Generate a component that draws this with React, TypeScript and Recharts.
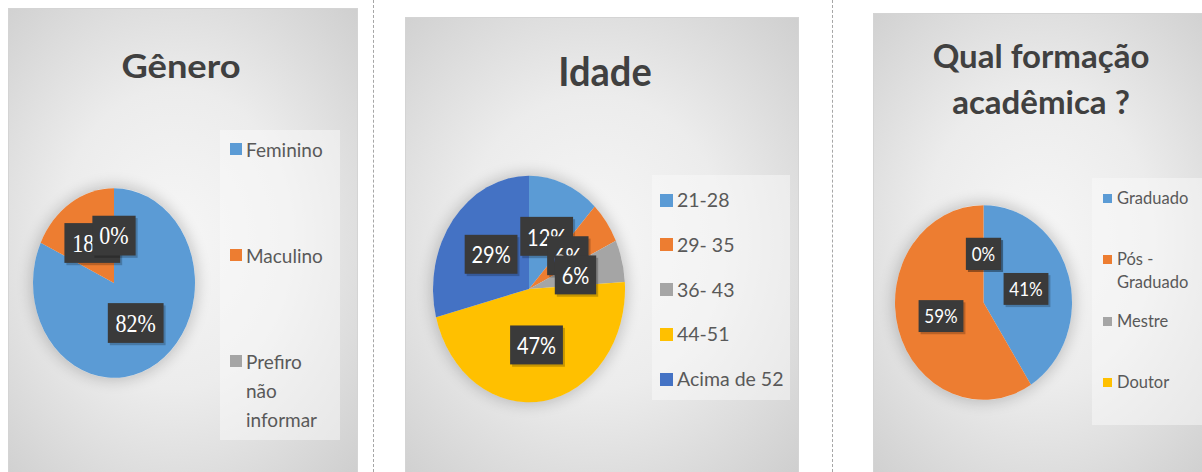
import React from "react";
import { PieChart, Pie, Cell, Legend, Sector } from "recharts";

const generoNames = ["Feminino", "Maculino", "Prefiro não informar"];
const generoValues = [82, 18, 0];
const generoColors = ["#5b9bd5", "#ed7d31", "#a5a5a5"];

const idadeNames = ["21-28", "29- 35", "36- 43", "44-51", "Acima de 52"];
const idadeValues = [12, 6, 6, 47, 29];
const idadeColors = ["#5b9bd5", "#ed7d31", "#a5a5a5", "#ffc000", "#4472c4"];

const formacaoNames = ["Graduado", "Pós - Graduado", "Mestre", "Doutor"];
const formacaoValues = [41, 59, 0, 0];
const formacaoColors = ["#5b9bd5", "#ed7d31", "#a5a5a5", "#ffc000"];

const SANS = "Lato, 'Open Sans', sans-serif";
const RAD = Math.PI / 180;

// the source image is stretched vertically, so sectors and labels get a y-scale
const stretch = (cx: number, cy: number, k: number) =>
  `translate(${cx} ${cy}) scale(1 ${k}) translate(${-cx} ${-cy})`;

function ovalShape(k: number) {
  return (props: any) => (
    <g transform={stretch(props.cx, props.cy, k)}>
      <Sector {...props} />
    </g>
  );
}

function boxLabel(k: number, font: string, fontSize: number, boxH: number, pad: number) {
  return (props: any) => {
    const { cx, cy, midAngle, outerRadius, percent } = props;
    const x = cx + 0.5 * outerRadius * Math.cos(-midAngle * RAD);
    const y = cy + 0.5 * outerRadius * Math.sin(-midAngle * RAD);
    const text = `${Math.round(percent * 100)}%`;
    const w = fontSize * (0.57 * (text.length - 1) + 0.85) + pad;
    return (
      <g transform={stretch(cx, cy, k)}>
        <rect x={x - w / 2 + 2} y={y - boxH / 2 + 2} width={w} height={boxH} fill="rgba(0,0,0,0.22)" />
        <rect x={x - w / 2} y={y - boxH / 2} width={w} height={boxH} fill="#3a3a3a" />
        <text
          x={x}
          y={y}
          textAnchor="middle"
          dominantBaseline="central"
          fill="#ffffff"
          fontFamily={font}
          fontSize={fontSize}
        >
          {text}
        </text>
      </g>
    );
  };
}

type LegendCfg = {
  left: number;
  top: number;
  width: number;
  height: number;
  slot: number;
  padTop: number;
  padLeft: number;
  lineH: number;
  fontSize: number;
  swatch: number;
  gap: number;
  textW: number;
};

function legendContent(cfg: LegendCfg, names: string[]) {
  return (props: any) => {
    // keep the category order of the data, not the legend's default sort
    const items = [...(props.payload || [])].sort(
      (a: any, b: any) => names.indexOf(a.value) - names.indexOf(b.value)
    );
    return (
      <div
        style={{
          width: cfg.width,
          height: cfg.height,
          background: "rgba(250,250,250,0.5)",
          boxSizing: "border-box",
          paddingLeft: cfg.padLeft,
          fontFamily: SANS,
          fontSize: cfg.fontSize,
          color: "#595959",
          textAlign: "left",
        }}
      >
        {items.map((it: any) => (
          <div
            key={it.value}
            style={{
              height: cfg.slot,
              boxSizing: "border-box",
              paddingTop: cfg.padTop,
              display: "flex",
              alignItems: "flex-start",
            }}
          >
            <span
              style={{
                width: cfg.swatch,
                height: cfg.swatch,
                background: it.color,
                marginTop: (cfg.lineH - cfg.swatch) / 2,
                marginRight: cfg.gap,
                flex: "none",
              }}
            />
            <span style={{ width: cfg.textW, lineHeight: `${cfg.lineH}px` }}>{it.value}</span>
          </div>
        ))}
      </div>
    );
  };
}

type TitleCfg = {
  lines: string[];
  cx: number;
  baseline: number;
  fontSize: number;
  lineH: number;
  scaleX: number;
};

type PanelProps = {
  left: number;
  top: number;
  width: number;
  height: number;
  title: TitleCfg;
  names: string[];
  values: number[];
  colors: string[];
  cx: number;
  cy: number;
  r: number;
  k: number;
  labelFont: string;
  labelSize: number;
  boxH: number;
  pad: number;
  legend: LegendCfg;
};

function Panel(p: PanelProps) {
  const data = p.names.map((name, i) => ({ name, value: p.values[i] }));
  const t = p.title;
  return (
    <div
      style={{
        position: "absolute",
        left: p.left,
        top: p.top,
        width: p.width,
        height: p.height,
        border: "1px solid #d4d4d4",
        boxSizing: "border-box",
        background:
          "radial-gradient(ellipse 75% 70% at 48% 48%, #f6f6f6 0%, #ececec 45%, #d6d6d6 85%, #cecece 100%)",
      }}
    >
      <div
        style={{
          position: "absolute",
          left: t.cx - 200,
          width: 400,
          top: t.baseline - 0.987 * t.fontSize - (t.lineH - 1.2 * t.fontSize) / 2,
          textAlign: "center",
          fontFamily: SANS,
          fontWeight: 700,
          fontSize: t.fontSize,
          lineHeight: `${t.lineH}px`,
          color: "#404040",
          transform: `scaleX(${t.scaleX})`,
        }}
      >
        {t.lines.map((l) => (
          <div key={l}>{l}</div>
        ))}
      </div>
      <div
        style={{
          position: "absolute",
          left: p.cx - p.r - 1,
          top: p.cy - p.r * p.k - 1,
          width: 2 * p.r,
          height: 2 * p.r * p.k,
          borderRadius: "50%",
          boxShadow: "0 0 14px 3px rgba(0,0,0,0.18)",
        }}
      />
      <div style={{ position: "absolute", left: -1, top: -1 }}>
        <PieChart width={p.width} height={p.height} margin={{ top: 0, right: 0, bottom: 0, left: 0 }}>
          <Pie
            data={data}
            dataKey="value"
            nameKey="name"
            cx={p.cx}
            cy={p.cy}
            outerRadius={p.r}
            startAngle={90}
            endAngle={-270}
            stroke="none"
            shape={ovalShape(p.k)}
            label={boxLabel(p.k, p.labelFont, p.labelSize, p.boxH, p.pad)}
            labelLine={false}
            isAnimationActive={false}
          >
            {data.map((d, i) => (
              <Cell key={d.name} fill={p.colors[i]} />
            ))}
          </Pie>
          <Legend
            layout="vertical"
            align="right"
            verticalAlign="middle"
            itemSorter={(item: any) => p.names.indexOf(item.value)}
            content={legendContent(p.legend, p.names)}
            wrapperStyle={{
              left: p.legend.left,
              top: p.legend.top,
              width: p.legend.width,
              height: p.legend.height,
            }}
          />
        </PieChart>
      </div>
    </div>
  );
}

export default function App() {
  return (
    <div
      style={{
        position: "absolute",
        left: 0,
        top: 0,
        width: 1202,
        height: 472,
        overflow: "hidden",
        background: "#ffffff",
      }}
    >
      <Panel
        left={8}
        top={8}
        width={350}
        height={480}
        title={{ lines: ["Gênero"], cx: 172, baseline: 69, fontSize: 33, lineH: 40, scaleX: 1.1 }}
        names={generoNames}
        values={generoValues}
        colors={generoColors}
        cx={106}
        cy={275}
        r={81}
        k={1.17}
        labelFont="'Liberation Serif', 'DejaVu Serif', serif"
        labelSize={22}
        boxH={34}
        pad={12}
        legend={{
          left: 212,
          top: 122,
          width: 120,
          height: 310,
          slot: 106,
          padTop: 4.5,
          padLeft: 10,
          lineH: 29,
          fontSize: 19,
          swatch: 12,
          gap: 4,
          textW: 82,
        }}
      />
      <div
        style={{
          position: "absolute",
          left: 373,
          top: 0,
          height: 472,
          borderLeft: "1px dashed #a6a6a6",
        }}
      />
      <Panel
        left={405}
        top={17}
        width={394}
        height={470}
        title={{ lines: ["Idade"], cx: 199, baseline: 68, fontSize: 40, lineH: 48, scaleX: 0.95 }}
        names={idadeNames}
        values={idadeValues}
        colors={idadeColors}
        cx={124}
        cy={272}
        r={96}
        k={1.18}
        labelFont={SANS}
        labelSize={20}
        boxH={33}
        pad={13}
        legend={{
          left: 247,
          top: 158,
          width: 138,
          height: 225,
          slot: 44.75,
          padTop: 13,
          padLeft: 8,
          lineH: 24,
          fontSize: 19.5,
          swatch: 13,
          gap: 4,
          textW: 115,
        }}
      />
      <div
        style={{
          position: "absolute",
          left: 832,
          top: 0,
          height: 472,
          borderLeft: "1px dashed #a6a6a6",
        }}
      />
      <Panel
        left={873}
        top={13}
        width={345}
        height={470}
        title={{
          lines: ["Qual formação", "acadêmica ?"],
          cx: 167,
          baseline: 54,
          fontSize: 33,
          lineH: 46,
          scaleX: 1,
        }}
        names={formacaoNames}
        values={formacaoValues}
        colors={formacaoColors}
        cx={110.5}
        cy={289.5}
        r={88.5}
        k={1.1}
        labelFont={SANS}
        labelSize={17}
        boxH={29}
        pad={11}
        legend={{
          left: 219,
          top: 165,
          width: 126,
          height: 247,
          slot: 61.5,
          padTop: 8.5,
          padLeft: 11,
          lineH: 23,
          fontSize: 16.5,
          swatch: 9,
          gap: 5,
          textW: 80,
        }}
      />
    </div>
  );
}
